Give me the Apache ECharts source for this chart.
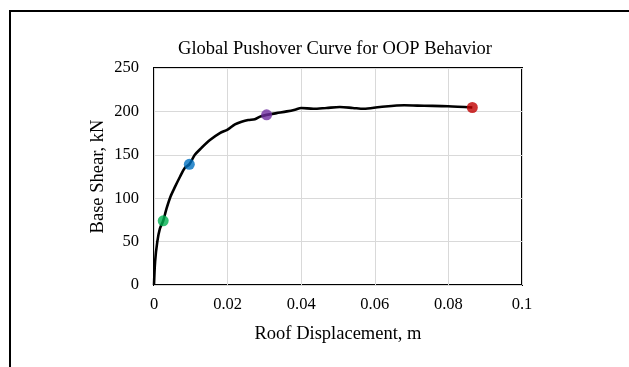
<!DOCTYPE html>
<html>
<head>
<meta charset="utf-8">
<script src="https://cdn.jsdelivr.net/npm/echarts@6/dist/echarts.min.js"></script>
<style>html,body{margin:0;padding:0;background:#fff;}#c{width:629px;height:367px;}</style>
</head>
<body>
<div id="c"></div>
<script>
const curveX = [0, 0.0003, 0.0009, 0.0016, 0.0025, 0.0034, 0.0045, 0.0057, 0.0071, 0.0084, 0.0096, 0.0111, 0.0129, 0.0152, 0.0179, 0.0200, 0.0220, 0.0238, 0.0256, 0.0274, 0.0288, 0.0306, 0.0333, 0.0361, 0.0383, 0.0400, 0.0433, 0.0469, 0.0505, 0.0540, 0.0570, 0.0614, 0.0680, 0.0734, 0.0799, 0.0865];
const curveY = [0, 27, 50, 65, 74, 88, 102, 113, 125, 135, 139, 150, 158, 167, 175, 179, 185, 188, 190, 191, 194, 196, 198, 200, 202, 204, 203, 204, 205, 204, 203, 205, 207, 206.5, 206, 204.5];
const markX = [0.0025, 0.0096, 0.0306, 0.0865];
const markY = [74, 139, 196, 204.5];
const markColors = ['#00B050', '#0070C0', '#7030A0', '#C00000'];
const titleText = 'Global Pushover Curve for OOP Behavior';
const xName = 'Roof Displacement, m';
const yName = 'Base Shear, kN';

const font = '"Liberation Serif", "Times New Roman", serif';
const chart = echarts.init(document.getElementById('c'), null, {renderer: 'canvas'});
chart.setOption({
  backgroundColor: '#fff',
  animation: false,
  graphic: [{
    type: 'rect', shape: {x: 10, y: 11, width: 700, height: 420},
    style: {fill: 'none', stroke: '#000', lineWidth: 2}, z: 0
  }],
  title: {
    text: titleText, left: 330, top: 35, textAlign: 'center',
    textStyle: {fontFamily: font, fontWeight: 'normal', fontSize: 18.5, color: '#000'}
  },
  grid: {left: 154, right: 107, top: 68, bottom: 82, show: true, borderColor: '#000', borderWidth: 2, backgroundColor: 'transparent'},
  xAxis: {
    type: 'value', min: 0, max: 0.1, interval: 0.02,
    name: xName, nameLocation: 'middle', nameGap: 40, nameMoveOverlap: false,
    nameTextStyle: {fontFamily: font, fontSize: 18.5, color: '#000'},
    axisLine: {show: false}, axisTick: {show: false},
    axisLabel: {fontFamily: font, fontSize: 16.5, color: '#000', margin: 11},
    splitLine: {show: true, lineStyle: {color: '#d9d9d9', width: 1}}
  },
  yAxis: {
    type: 'value', min: 0, max: 250, interval: 50,
    name: yName, nameLocation: 'middle', nameGap: 46, nameMoveOverlap: false,
    nameTextStyle: {fontFamily: font, fontSize: 18.5, color: '#000'},
    axisLine: {show: false}, axisTick: {show: false},
    axisLabel: {fontFamily: font, fontSize: 16.5, color: '#000', margin: 15},
    splitLine: {show: true, lineStyle: {color: '#d9d9d9', width: 1}}
  },
  series: [{
    type: 'line', data: curveX.map((x, i) => [x, curveY[i]]),
    smooth: 0.3, showSymbol: false, lineStyle: {color: '#000', width: 2.6}, z: 2
  }, {
    type: 'scatter', data: markX.map((x, i) => ({value: [x, markY[i]], itemStyle: {color: markColors[i]}})),
    symbolSize: 11, z: 3
  }]
});
</script>
</body>
</html>
